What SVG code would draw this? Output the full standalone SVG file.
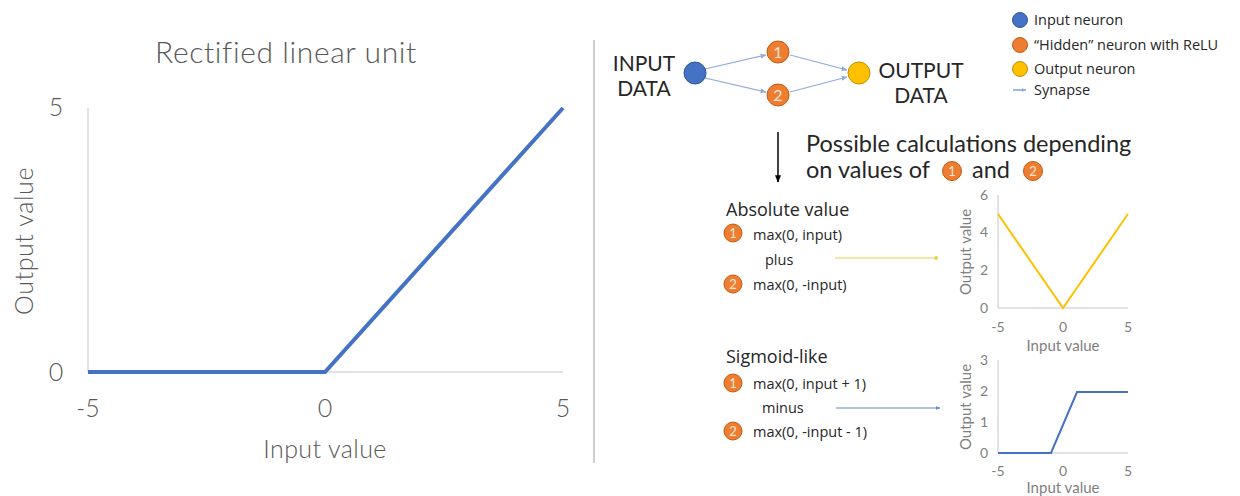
<svg xmlns="http://www.w3.org/2000/svg" width="1240" height="496" viewBox="0 0 1240 496">
  <style>
    text { font-family: Lato, "Open Sans", "Liberation Sans", sans-serif; fill: #595959; }
    .sans { font-family: "Open Sans", "Noto Sans", "Liberation Sans", sans-serif; }
    .axis { stroke: #d9d9d9; stroke-width: 1.5; fill: none; }
    .big { font-size: 25px; font-weight: 300; }
    .tick { font-size: 14px; fill: #7f7f7f; }
    .lbl { font-size: 15px; fill: #7f7f7f; }
    .dark { fill: #262626; }
    .formula { font-size: 14.5px; fill: #262626; }
    .digit { text-anchor: middle; fill: #fbe5d6; }
    .hid { fill: #ED7D31; stroke: #c55a11; stroke-width: 1; }
    .syn { stroke: #8faadc; stroke-width: 1.2; fill: none; marker-end: url(#tipBlue); }
  </style>
  <defs>
    <marker id="tipBlue" viewBox="0 0 10 10" refX="9" refY="5" markerWidth="5" markerHeight="5" orient="auto">
      <path d="M0,1 L10,5 L0,9 z" fill="#8faadc"/>
    </marker>
    <marker id="tipBlack" viewBox="0 0 10 10" refX="9" refY="5" markerWidth="5" markerHeight="5" orient="auto">
      <path d="M0,1 L10,5 L0,9 z" fill="#000"/>
    </marker>
    <marker id="tipYellow" viewBox="0 0 10 10" refX="9" refY="5" markerWidth="4" markerHeight="4" orient="auto">
      <circle cx="5" cy="5" r="4" fill="#e8d44d"/>
    </marker>
    <marker id="tipSteel" viewBox="0 0 10 10" refX="9" refY="5" markerWidth="4" markerHeight="4" orient="auto">
      <path d="M0,1 L10,5 L0,9 z" fill="#5b8cc8"/>
    </marker>
  </defs>

  <rect width="1240" height="496" fill="#ffffff"/>

  <!-- ReLU chart -->
  <g id="relu-chart">
    <text x="286" y="63" font-size="30" font-weight="300" letter-spacing="0.6" text-anchor="middle">Rectified linear unit</text>
    <line class="axis" x1="88" y1="108" x2="88" y2="372"/>
    <line class="axis" x1="88" y1="372" x2="563" y2="372"/>
    <polyline points="88,372 325,372 563,108" fill="none" stroke="#4472C4" stroke-width="4"/>
    <text class="big" x="56" y="116" text-anchor="middle">5</text>
    <text class="big" x="56" y="381" text-anchor="middle">0</text>
    <text class="big" x="88" y="417" text-anchor="middle">-5</text>
    <text class="big" x="325" y="417" text-anchor="middle">0</text>
    <text class="big" x="563" y="417" text-anchor="middle">5</text>
    <text class="big" x="325" y="458" text-anchor="middle" font-size="27" letter-spacing="0.4">Input value</text>
    <text class="big" x="0" y="0" text-anchor="middle" font-size="27" letter-spacing="0.6" transform="translate(33,241) rotate(-90)">Output value</text>
  </g>

  <!-- divider -->
  <line x1="594" y1="40" x2="594" y2="463" stroke="#bfbfbf" stroke-width="1.5"/>

  <!-- connectors -->
  <g id="connectors">
    <line class="syn" x1="705" y1="69" x2="766" y2="55"/>
    <line class="syn" x1="705" y1="78" x2="766" y2="92"/>
    <line class="syn" x1="790" y1="55" x2="847" y2="70"/>
    <line class="syn" x1="790" y1="92" x2="847" y2="77"/>
    <line x1="778" y1="132" x2="778" y2="182" stroke="#000" stroke-width="1.5" marker-end="url(#tipBlack)"/>
    <line x1="835" y1="258" x2="938" y2="258" stroke="#e8d44d" stroke-width="1.2" marker-end="url(#tipYellow)"/>
    <line x1="836" y1="408" x2="940" y2="408" stroke="#5b8cc8" stroke-width="1.2" marker-end="url(#tipSteel)"/>
  </g>

  <!-- network -->
  <g id="input-neuron">
    <text x="644" y="71" font-size="21" text-anchor="middle" class="dark">INPUT</text>
    <text x="644" y="96" font-size="21" text-anchor="middle" class="dark">DATA</text>
    <circle cx="695" cy="73" r="11" fill="#4472C4" stroke="#2f5597" stroke-width="1"/>
  </g>
  <g id="hidden-1">
    <circle class="hid" cx="778" cy="52" r="11"/>
    <text class="digit" x="778" y="58" font-size="16">1</text>
  </g>
  <g id="hidden-2">
    <circle class="hid" cx="778" cy="95" r="11"/>
    <text class="digit" x="778" y="101" font-size="16">2</text>
  </g>
  <g id="output-neuron">
    <circle cx="859" cy="73" r="11" fill="#FFC000" stroke="#bf9000" stroke-width="1"/>
    <text x="921" y="78" font-size="21" text-anchor="middle" class="dark">OUTPUT</text>
    <text x="921" y="103" font-size="21" text-anchor="middle" class="dark">DATA</text>
  </g>

  <!-- legend -->
  <g id="legend">
    <circle cx="1020" cy="20" r="7.5" fill="#4472C4" stroke="#2f5597"/>
    <text class="sans dark" x="1034" y="25" font-size="14.5">Input neuron</text>
    <circle cx="1020" cy="45" r="7.5" fill="#ED7D31" stroke="#c55a11"/>
    <text class="sans dark" x="1034" y="50" font-size="14.5">“Hidden” neuron with ReLU</text>
    <circle cx="1020" cy="69" r="7.5" fill="#FFC000" stroke="#bf9000"/>
    <text class="sans dark" x="1034" y="74" font-size="14.5">Output neuron</text>
    <line x1="1013" y1="90" x2="1026" y2="90" stroke="#4472C4" stroke-width="1" marker-end="url(#tipBlue)"/>
    <text class="sans dark" x="1034" y="95" font-size="14.5">Synapse</text>
  </g>

  <!-- caption -->
  <g id="caption">
    <text x="806" y="152" font-size="23.5" class="dark">Possible calculations depending</text>
    <text x="806" y="178" font-size="23.5" class="dark">on values of</text>
    <circle class="hid" cx="952" cy="171" r="9.5"/>
    <text class="digit" x="952" y="176" font-size="13">1</text>
    <text x="972" y="178" font-size="23.5" class="dark">and</text>
    <circle class="hid" cx="1033" cy="171" r="9.5"/>
    <text class="digit" x="1033" y="176" font-size="13">2</text>
  </g>

  <!-- absolute value -->
  <g id="absolute-value">
    <text class="sans dark" x="726" y="216" font-size="18">Absolute value</text>
    <circle class="hid" cx="733" cy="233" r="9"/>
    <text class="digit" x="733" y="238" font-size="13">1</text>
    <text class="sans formula" x="753" y="240">max(0, input)</text>
    <text class="sans formula" x="765" y="265">plus</text>
    <circle class="hid" cx="733" cy="284" r="9"/>
    <text class="digit" x="733" y="289" font-size="13">2</text>
    <text class="sans formula" x="753" y="290">max(0, -input)</text>
  </g>

  <g id="absolute-chart">
    <line class="axis" x1="998" y1="195" x2="998" y2="308"/>
    <line class="axis" x1="998" y1="308" x2="1128" y2="308"/>
    <polyline points="998,214 1063,308 1128,214" fill="none" stroke="#FFC000" stroke-width="2"/>
    <text class="tick" x="984" y="200" text-anchor="middle">6</text>
    <text class="tick" x="984" y="237" text-anchor="middle">4</text>
    <text class="tick" x="984" y="275" text-anchor="middle">2</text>
    <text class="tick" x="984" y="313" text-anchor="middle">0</text>
    <text class="tick" x="998" y="332" text-anchor="middle">-5</text>
    <text class="tick" x="1063" y="332" text-anchor="middle">0</text>
    <text class="tick" x="1128" y="332" text-anchor="middle">5</text>
    <text class="lbl" x="1063" y="351" text-anchor="middle">Input value</text>
    <text class="lbl" x="0" y="0" text-anchor="middle" transform="translate(971,252) rotate(-90)">Output value</text>
  </g>

  <!-- sigmoid-like -->
  <g id="sigmoid-like">
    <text class="sans dark" x="726" y="363" font-size="18">Sigmoid-like</text>
    <circle class="hid" cx="733" cy="383" r="9"/>
    <text class="digit" x="733" y="388" font-size="13">1</text>
    <text class="sans formula" x="753" y="389">max(0, input + 1)</text>
    <text class="sans formula" x="762" y="413">minus</text>
    <circle class="hid" cx="733" cy="431" r="9"/>
    <text class="digit" x="733" y="436" font-size="13">2</text>
    <text class="sans formula" x="753" y="437">max(0, -input - 1)</text>
  </g>

  <g id="sigmoid-chart">
    <line class="axis" x1="998" y1="360" x2="998" y2="453"/>
    <line class="axis" x1="998" y1="453" x2="1128" y2="453"/>
    <polyline points="998,453 1051,453 1077,392 1128,392" fill="none" stroke="#4472C4" stroke-width="2"/>
    <text class="tick" x="984" y="365" text-anchor="middle">3</text>
    <text class="tick" x="984" y="396" text-anchor="middle">2</text>
    <text class="tick" x="984" y="427" text-anchor="middle">1</text>
    <text class="tick" x="984" y="458" text-anchor="middle">0</text>
    <text class="tick" x="998" y="476" text-anchor="middle">-5</text>
    <text class="tick" x="1063" y="476" text-anchor="middle">0</text>
    <text class="tick" x="1128" y="476" text-anchor="middle">5</text>
    <text class="lbl" x="1063" y="493" text-anchor="middle">Input value</text>
    <text class="lbl" x="0" y="0" text-anchor="middle" transform="translate(971,407) rotate(-90)">Output value</text>
  </g>
</svg>
